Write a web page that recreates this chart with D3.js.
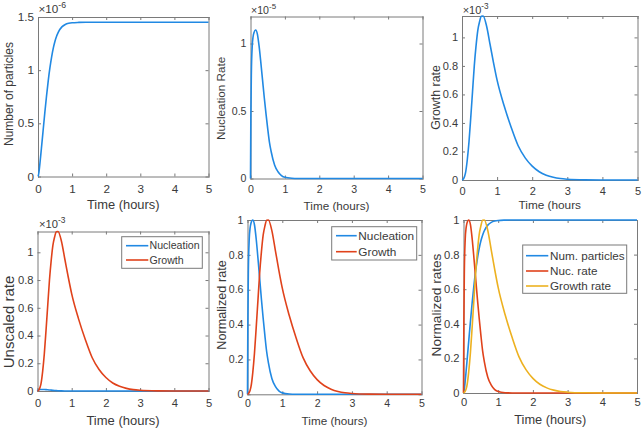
<!DOCTYPE html>
<html><head><meta charset="utf-8">
<script src="https://cdn.jsdelivr.net/npm/d3@7"></script>
<style>
body{margin:0;background:#fff}
svg{display:block}
text{font-family:"Liberation Sans",Arial,Helvetica,sans-serif;fill:#3a3a3a}
</style></head>
<body><svg id="c" width="642" height="429"></svg>
<script>
// ---- data ----
const time = [0, 0.01, 0.025, 0.05, 0.075, 0.1, 0.15, 0.2, 0.25, 0.3, 0.35, 0.4, 0.45, 0.5, 0.55, 0.6, 0.7, 0.8, 0.9, 1.0, 1.2, 1.4, 1.6, 1.8, 2.0, 2.2, 2.4, 2.6, 2.8, 3.0, 3.5, 4.0, 4.5, 5.0];
// number of particles (x1e-6)
const numParticles = [0, 0.007, 0.035, 0.103, 0.182, 0.264, 0.433, 0.60, 0.757, 0.90, 1.023, 1.125, 1.209, 1.274, 1.323, 1.36, 1.407, 1.43, 1.441, 1.446, 1.449, 1.45, 1.45, 1.45, 1.45, 1.45, 1.45, 1.45, 1.45, 1.45, 1.45, 1.45, 1.45, 1.45];
// nucleation rate (x1e-5)
const nucleationRate = [0, 0.45, 0.78, 0.98, 1.05, 1.08, 1.10, 1.07, 0.98, 0.86, 0.73, 0.60, 0.48, 0.37, 0.27, 0.20, 0.10, 0.05, 0.022, 0.009, 0.002, 0.0004, 0.0001, 0, 0, 0, 0, 0, 0, 0, 0, 0, 0, 0];
// growth rate (x1e-3)
const growthRate = [0, 0.001, 0.004, 0.012, 0.027, 0.05, 0.14, 0.27, 0.44, 0.62, 0.80, 0.94, 1.05, 1.11, 1.148, 1.15, 1.08, 0.95, 0.82, 0.70, 0.52, 0.37, 0.24, 0.155, 0.097, 0.058, 0.034, 0.019, 0.010, 0.0055, 0.0012, 0.0002, 0, 0];

const xTicks = [0, 1, 2, 3, 4, 5];
const yTicksParticles = [0, 0.5, 1, 1.5];
const yTicksNucleation = [0, 0.5, 1];
const yTicksRate = [0, 0.2, 0.4, 0.6, 0.8, 1];

const blue = "#2189e3", red = "#e0421b", yellow = "#edb120";
const axisColor = "#7a7a7a";

const svg = d3.select("#c");
const fmt = d3.format("~g");
const nucMax = d3.max(nucleationRate), grMax = d3.max(growthRate), npMax = d3.max(numParticles);

function panel(cfg) {
  const x = d3.scaleLinear().domain([0, 5]).range([cfg.l, cfg.r]);
  const y = d3.scaleLinear().domain([0, cfg.ymax]).range([cfg.b, cfg.t]);
  const g = svg.append("g");
  const fs = cfg.tickFs;
  const styleAxis = (sel) => {
    sel.attr("font-family", null).attr("font-size", null);
    sel.select(".domain").attr("stroke", axisColor).attr("stroke-width", 1);
    sel.selectAll(".tick line").attr("stroke", axisColor);
    sel.selectAll(".tick text").attr("fill", "#3a3a3a").style("font-size", fs + "px");
  };
  g.append("g").attr("transform", `translate(0,${cfg.b})`)
    .call(d3.axisBottom(x).tickValues(xTicks).tickFormat(fmt).tickSizeInner(-3).tickSizeOuter(0).tickPadding(cfg.xPad))
    .call(styleAxis);
  g.append("g").attr("transform", `translate(0,${cfg.t})`)
    .call(d3.axisTop(x).tickValues(xTicks).tickFormat("").tickSizeInner(-3).tickSizeOuter(0))
    .call(styleAxis);
  g.append("g").attr("transform", `translate(${cfg.l},0)`)
    .call(d3.axisLeft(y).tickValues(cfg.yTicks).tickFormat("").tickSizeInner(-3).tickSizeOuter(0))
    .call(styleAxis);
  g.append("g").attr("transform", `translate(${cfg.r},0)`)
    .call(d3.axisRight(y).tickValues(cfg.yTicks).tickFormat("").tickSizeInner(-3).tickSizeOuter(0))
    .call(styleAxis);
  g.selectAll(".domain").attr("stroke-linecap", "square");
  // y tick labels
  g.append("g").selectAll("text").data(cfg.yTicks).join("text")
    .attr("x", cfg.l - 4).attr("y", d => y(d)).attr("dy", "0.35em")
    .attr("text-anchor", "end").style("font-size", fs + "px").text(d => fmt(d));

  const line = d3.line().x(d => x(d[0])).y(d => y(d[1])).curve(d3.curveMonotoneX);
  cfg.series.forEach(s => {
    g.append("path").datum(time.map((t, i) => [t, s.values[i]]))
      .attr("d", line).attr("fill", "none").attr("stroke", s.color)
      .attr("stroke-width", 1.6).attr("stroke-linejoin", "round");
  });

  g.append("text").attr("x", (cfg.l + cfg.r) / 2).attr("y", cfg.xlY).attr("dy", "0.35em")
    .attr("text-anchor", "middle").style("font-size", cfg.xlFs + "px").text(cfg.xlabel);
  g.append("text").attr("transform", `translate(${cfg.ylX},${cfg.ylY}) rotate(-90)`)
    .attr("dy", "0.35em").attr("text-anchor", "middle").style("font-size", cfg.ylFs + "px").text(cfg.ylabel);
  if (cfg.exp) {
    const t = g.append("text").attr("x", cfg.expX).attr("y", cfg.expY).style("font-size", fs + "px");
    t.append("tspan").text("\u00d710");
    t.append("tspan").attr("dy", -5).style("font-size", (fs * 0.75) + "px").text(cfg.exp);
  }
  if (cfg.legend) {
    const L = cfg.legend;
    g.append("rect").attr("x", L.x0).attr("y", L.y0).attr("width", L.x1 - L.x0).attr("height", L.y1 - L.y0)
      .attr("fill", "#fff").attr("stroke", axisColor).attr("stroke-width", 1);
    cfg.series.forEach((s, i) => {
      const yy = L.rows[i];
      g.append("line").attr("x1", L.lx0).attr("x2", L.lx1).attr("y1", yy).attr("y2", yy)
        .attr("stroke", s.color).attr("stroke-width", 1.6);
      g.append("text").attr("x", L.tx).attr("y", yy).attr("dy", "0.35em")
        .style("font-size", L.fs + "px").text(s.name);
    });
  }
}

panel({ l: 38, r: 208.5, t: 17, b: 176.5, ymax: 1.5, yTicks: yTicksParticles, tickFs: 11.7, xPad: 8.5,
  xlabel: "Time (hours)", xlY: 204.7, xlFs: 12.9, ylabel: "Number of particles", ylX: 8.5, ylY: 94, ylFs: 12,
  exp: "-6", expX: 38.5, expY: 13,
  series: [{ values: numParticles, color: blue }] });

panel({ l: 250.5, r: 422.5, t: 16.5, b: 178.5, ymax: 1.2, yTicks: yTicksNucleation, tickFs: 10.6, xPad: 6.5,
  xlabel: "Time (hours)", xlY: 206, xlFs: 11.7, ylabel: "Nucleation Rate", ylX: 220.8, ylY: 98.3, ylFs: 11.7,
  exp: "-5", expX: 251, expY: 14,
  series: [{ values: nucleationRate, color: blue }] });

panel({ l: 462, r: 637.5, t: 16, b: 180, ymax: 1.15, yTicks: yTicksRate, tickFs: 11, xPad: 6.7,
  xlabel: "Time (hours", xlY: 205, xlFs: 11.8, ylabel: "Growth rate", ylX: 435.3, ylY: 97.5, ylFs: 12.4,
  exp: "-3", expX: 462.7, expY: 14,
  series: [{ values: growthRate, color: blue }] });

panel({ l: 37.5, r: 208.5, t: 231.5, b: 391, ymax: 1.15, yTicks: yTicksRate, tickFs: 11.2, xPad: 8.3,
  xlabel: "Time (hours)", xlY: 420, xlFs: 13, ylabel: "Unscaled rate", ylX: 8.3, ylY: 322, ylFs: 15,
  exp: "-3", expX: 39, expY: 228,
  series: [{ name: "Nucleation", values: nucleationRate.map(v => v * 0.01), color: blue },
           { name: "Growth", values: growthRate, color: red }],
  legend: { x0: 121.7, x1: 202.3, y0: 236.7, y1: 268.3, rows: [245.7, 260], lx0: 126, lx1: 148.3, tx: 149.5, fs: 10.6 } });

panel({ l: 247.5, r: 421.5, t: 220, b: 394.3, ymax: 1, yTicks: yTicksRate, tickFs: 10.6, xPad: 5,
  xlabel: "Time (hours)", xlY: 420.7, xlFs: 11.7, ylabel: "Normalized rate", ylX: 221.3, ylY: 305, ylFs: 12.7,
  series: [{ name: "Nucleation", values: nucleationRate.map(v => v / nucMax), color: blue },
           { name: "Growth", values: growthRate.map(v => v / grMax), color: red }],
  legend: { x0: 331.7, x1: 416.7, y0: 226.7, y1: 260, rows: [235.7, 251.7], lx0: 336, lx1: 356.7, tx: 358.3, fs: 11.8 } });

panel({ l: 463.5, r: 637, t: 220, b: 393, ymax: 1, yTicks: yTicksRate, tickFs: 11.2, xPad: 5.3,
  xlabel: "Time (hours)", xlY: 419.3, xlFs: 12.8, ylabel: "Normalized rates", ylX: 436.7, ylY: 305, ylFs: 13.6,
  series: [{ name: "Num. particles", values: numParticles.map(v => v / npMax), color: blue },
           { name: "Nuc. rate", values: nucleationRate.map(v => v / nucMax), color: red },
           { name: "Growth rate", values: growthRate.map(v => v / grMax), color: yellow }],
  legend: { x0: 522.7, x1: 626.7, y0: 245, y1: 293.3, rows: [255.7, 271, 286], lx0: 526, lx1: 548.3, tx: 550, fs: 11.7 } });
</script></body></html>
